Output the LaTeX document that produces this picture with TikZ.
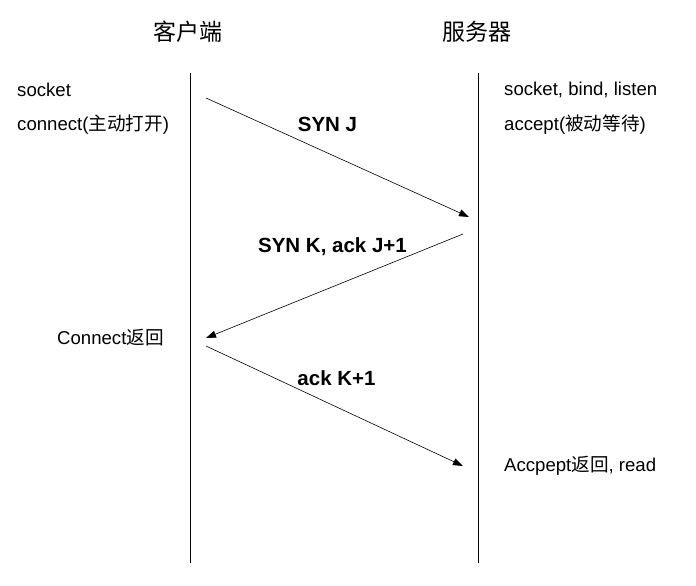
\documentclass[tikz,border=0pt]{standalone}
\usepackage{fontspec}
\setmainfont{Liberation Sans}
\newfontfamily\cjk{Noto Sans CJK SC}
\usetikzlibrary{arrows.meta}
\begin{document}
\begin{tikzpicture}[x=1pt,y=-1pt,
  lifeline/.style={line width=0.8pt},
  msg/.style={line width=0.6pt,-{Triangle[length=10pt,width=7pt]}},
  lbl/.style={inner sep=0pt,font=\fontsize{18.6}{20}\selectfont},
  msglbl/.style={inner sep=0pt,font=\fontsize{20.5}{22}\selectfont\bfseries},
  title/.style={inner sep=0pt,font=\fontsize{23}{26}\selectfont\cjk}]
\useasboundingbox (0,0) rectangle (696,586);
\coordinate (ct) at (190,73);
\coordinate (cb) at (190,563);
\coordinate (st) at (478,73);
\coordinate (sb) at (478,563);
\draw[lifeline] (ct) -- (cb);
\draw[lifeline] (st) -- (sb);
\node[title] (tc) at (188,32) {客户端};
\node[title] (ts) at (477,32) {服务器};
\node[lbl,anchor=west] (l1) at (17,90) {socket};
\node[lbl,anchor=west] (l2) at (17,125) {connect({\cjk 主动打开})};
\node[lbl,anchor=west] (r1) at (504,90) {socket, bind, listen};
\node[lbl,anchor=west] (r2) at (504,125) {accept({\cjk 被动等待})};
\node[lbl,anchor=west] (l3) at (57,338) {Connect{\cjk 返回}};
\node[lbl,anchor=west] (r3) at (504,466) {Accpept{\cjk 返回}, read};
\coordinate (a1s) at (206,98);
\coordinate (a1e) at (469,217);
\coordinate (a2s) at (463,234);
\coordinate (a2e) at (206,338);
\coordinate (a3s) at (206,346);
\coordinate (a3e) at (463,466);
\draw[msg] (a1s) -- (a1e);
\draw[msg] (a2s) -- (a2e);
\draw[msg] (a3s) -- (a3e);
\node[msglbl] (m1) at (327.5,124) {SYN J};
\node[msglbl] (m2) at (332.5,247) {SYN K, ack J+1};
\node[msglbl] (m3) at (336.5,378) {ack K+1};
\end{tikzpicture}
\end{document}
